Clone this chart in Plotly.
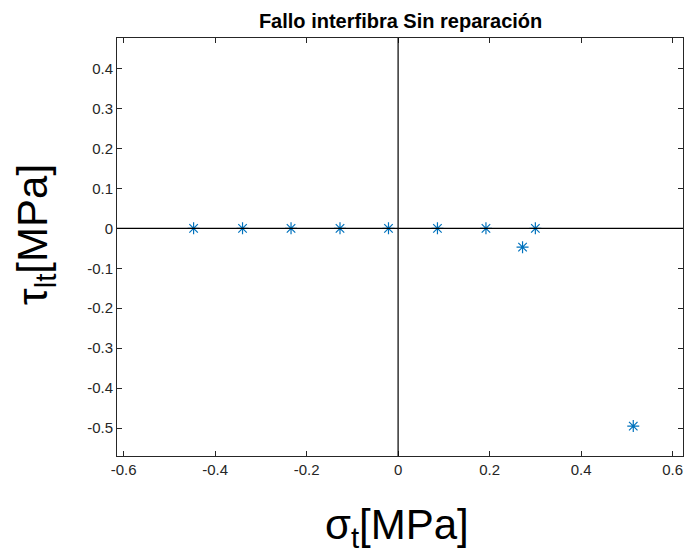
import plotly.graph_objects as go

# sigma_t / tau_lt values
sigma_t = [-0.447, -0.340, -0.234, -0.127, -0.021, 0.086, 0.192, 0.300, 0.272, 0.514]
tau_lt = [0.0, 0.0, 0.0, 0.0, 0.0, 0.0, 0.0, 0.0, -0.047, -0.495]

x_ticks = [-0.6, -0.4, -0.2, 0, 0.2, 0.4, 0.6]
y_ticks = [-0.5, -0.4, -0.3, -0.2, -0.1, 0, 0.1, 0.2, 0.3, 0.4]

FONT = 'Liberation Sans, Arial'

fig = go.Figure()
fig.add_trace(go.Scatter(
    x=sigma_t, y=tau_lt, mode='markers',
    marker=dict(symbol='asterisk-open', size=10, color='#0072BD',
                line=dict(color='#0072BD', width=1.2)),
    showlegend=False,
))

# zero lines like in matlab
fig.add_hline(y=0, line=dict(color='black', width=1.2))
fig.add_vline(x=0, line=dict(color='black', width=1.2))

axis_common = dict(
    showgrid=False, zeroline=False, showline=True, linecolor='#262626',
    linewidth=1, mirror='ticks', ticks='inside', ticklen=5, tickcolor='#262626',
    tickfont=dict(family=FONT, size=15, color='#262626'),
)

fig.update_layout(
    width=686, height=554,
    margin=dict(l=117, r=3, t=38, b=98, autoexpand=False),
    paper_bgcolor='white', plot_bgcolor='white',
    title=dict(text='<b>Fallo interfibra Sin reparación</b>', x=0.584, xanchor='center',
               y=0.962, yanchor='middle',
               font=dict(family=FONT, size=20, color='black')),
    xaxis=dict(range=[-0.6144, 0.6227], tickvals=x_ticks,
               ticktext=[f'{v:g}' for v in x_ticks], **axis_common),
    yaxis=dict(range=[-0.570, 0.4767], tickvals=y_ticks,
               ticktext=[f'{v:g}' for v in y_ticks], **axis_common),
)

# axis labels placed as annotations (matlab puts them a bit off-centre)
fig.add_annotation(text='σ<sub>t</sub>[MPa]', xref='paper', yref='paper',
                   x=0.495, y=-0.170, xanchor='center', yanchor='middle',
                   showarrow=False, font=dict(family=FONT, size=42, color='black'))
fig.add_annotation(text='τ<sub>lt</sub>[MPa]', xref='paper', yref='paper',
                   x=-0.143, y=0.529, xanchor='center', yanchor='middle',
                   textangle=-90, showarrow=False,
                   font=dict(family=FONT, size=42, color='black'))

fig.write_html("out.html", config={'displayModeBar': False},
               post_script="document.body.style.margin='0';")
